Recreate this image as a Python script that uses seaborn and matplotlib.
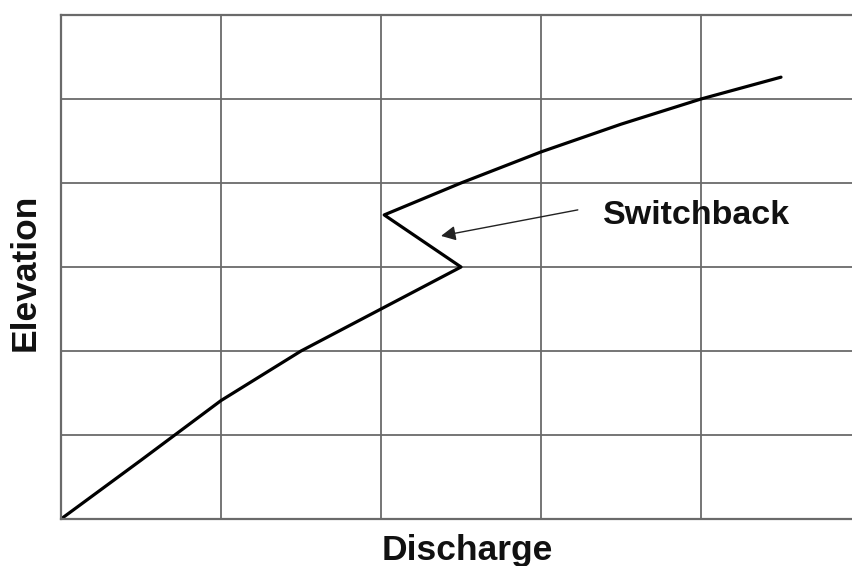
import matplotlib
matplotlib.use("Agg")
import matplotlib.pyplot as plt
import seaborn as sns
import pandas as pd
import numpy as np

discharge = [0.0, 0.5, 1.0, 1.5, 2.0, 2.5, 2.02, 2.5, 3.0, 3.5, 4.0, 4.5]
elevation = [0.0, 0.70, 1.41, 2.0, 2.5, 3.0, 3.62, 4.0, 4.37, 4.70, 5.0, 5.26]
x_ticks = [0, 1, 2, 3, 4, 5]
y_ticks = [0, 1, 2, 3, 4, 5, 6]
annotation_text = "Switchback"
x_label = "Discharge"
y_label = "Elevation"

df = pd.DataFrame({"Discharge": discharge, "Elevation": elevation})

sns.set_style("white")
plt.rcParams['font.family'] = ['Liberation Sans', 'DejaVu Sans']

fig = plt.figure(figsize=(8.52, 5.66), dpi=100)
ax = fig.add_axes([61/852, 47/566, 1 - 61/852, (519 - 15)/566])

sns.lineplot(data=df, x="Discharge", y="Elevation", sort=False, estimator=None,
             color="black", linewidth=2.3, ax=ax)

ax.set_xticks(x_ticks)
ax.set_yticks(y_ticks)
ax.set_xlim(0, (852 - 61) / 160)
ax.set_ylim(0, 6)
ax.tick_params(length=0, labelbottom=False, labelleft=False)
ax.grid(True, color="#6a6a6a", linewidth=1.3)
ax.set_axisbelow(True)
for side in ["left", "bottom", "top"]:
    ax.spines[side].set_color("#6a6a6a")
    ax.spines[side].set_linewidth(1.6)
ax.spines["right"].set_visible(False)

ax.set_xlabel(x_label, fontsize=25.5, fontweight="bold", color="#111111")
ax.xaxis.set_label_coords((467 - 61) / 791, -0.03)
ax.set_ylabel(y_label, fontsize=25.5, fontweight="bold", color="#111111")
ax.yaxis.set_label_coords((42 - 61) / 791, 0.49)

ax.annotate("", xy=(2.375, 3.37), xytext=(3.23, 3.68),
            arrowprops=dict(arrowstyle="-|>", color="#222222", lw=1.0,
                            mutation_scale=22, shrinkA=0, shrinkB=0))
ax.text(3.39, 3.61, annotation_text, fontsize=24.5, fontweight="bold",
        color="#111111", ha="left", va="center")

fig.savefig("out.png", dpi=100, facecolor="white")
